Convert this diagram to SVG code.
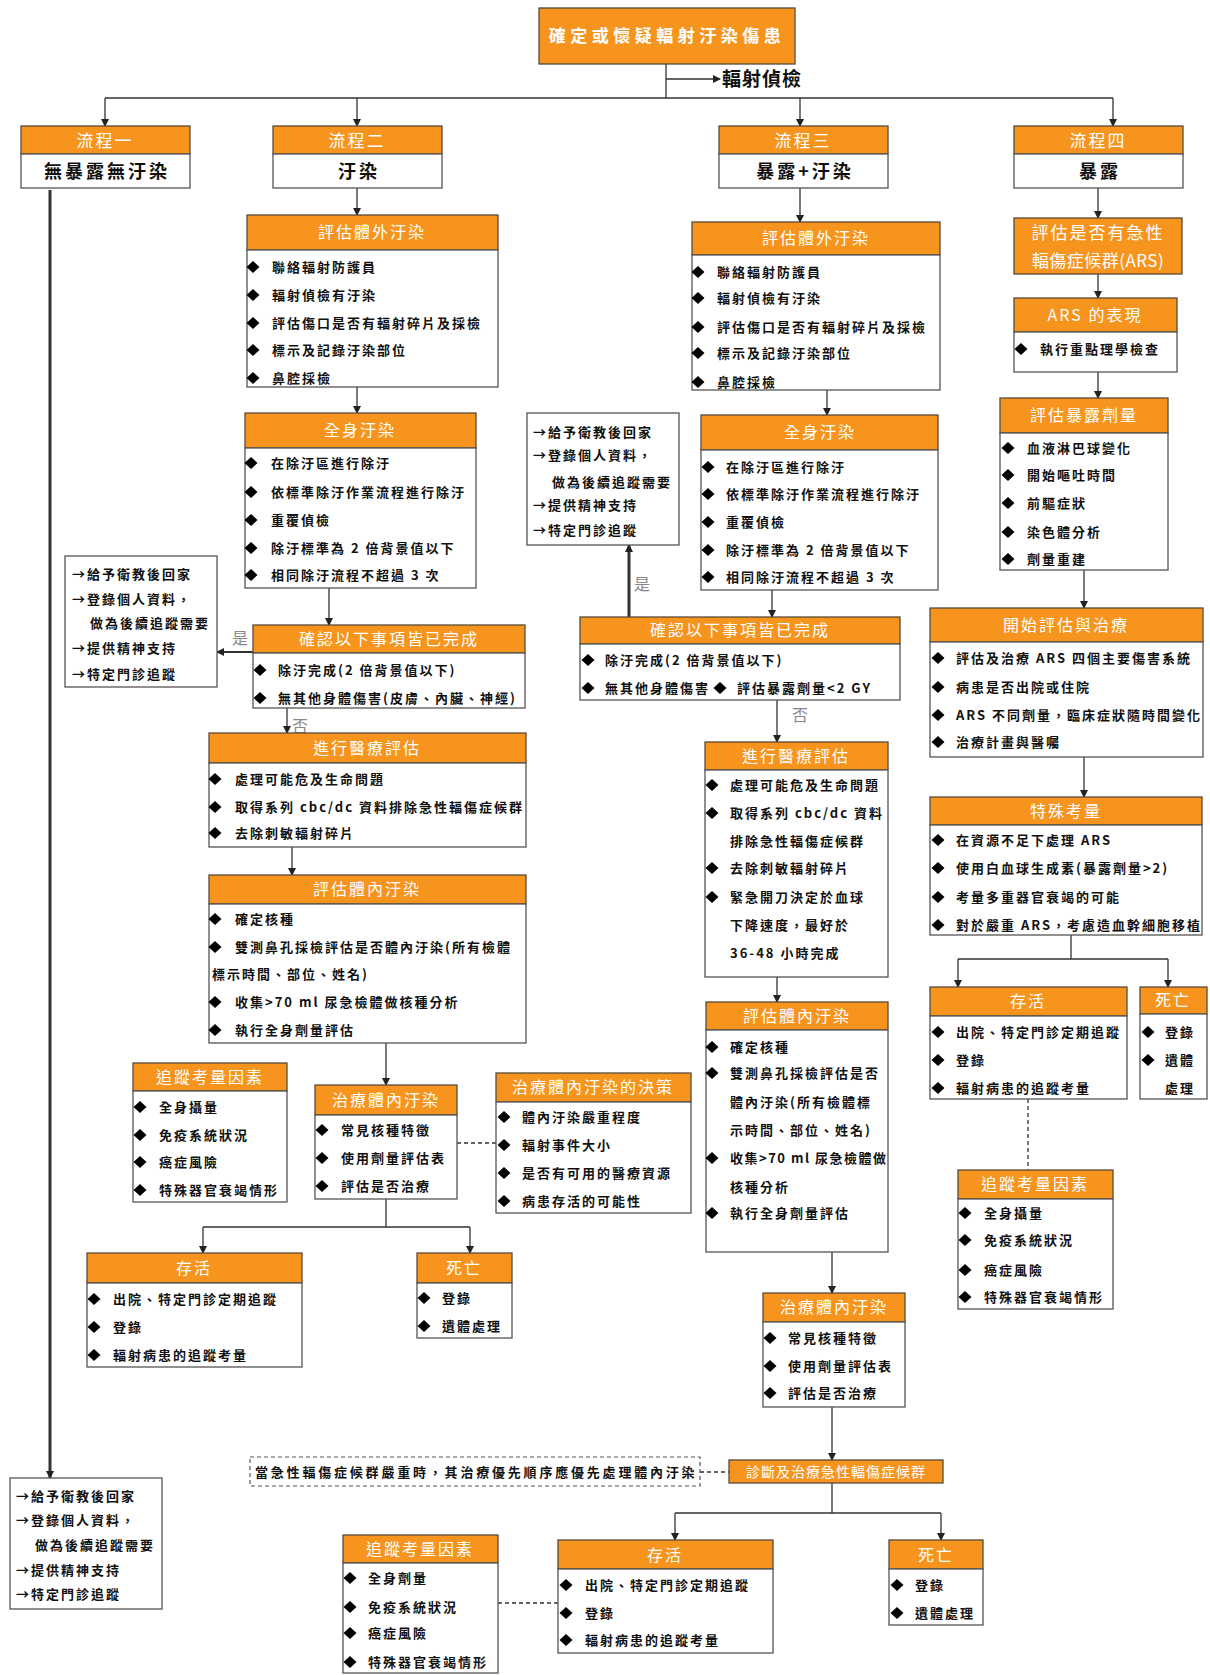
<svg xmlns="http://www.w3.org/2000/svg" xmlns:xlink="http://www.w3.org/1999/xlink" width="1210" height="1675" viewBox="0 0 1210 1675">
<style>
.o{fill:#F7941D;stroke:#5a4a3a;stroke-width:1.3}
.w{fill:#fff;stroke:#555;stroke-width:1.3}
.ht{font-family:"Noto Sans CJK TC","Noto Sans CJK SC",sans-serif;font-size:16px;fill:#fff;text-anchor:middle;letter-spacing:2px}
.t{font-family:"Noto Sans CJK TC","Noto Sans CJK SC",sans-serif;font-size:13px;font-weight:700;fill:#111;letter-spacing:2px}
.st{font-family:"Noto Sans CJK TC","Noto Sans CJK SC",sans-serif;font-size:18px;font-weight:700;fill:#111;text-anchor:middle;letter-spacing:3px}
.c{stroke:#333;stroke-width:1.3;fill:none}
.a{marker-end:url(#ar)}
.d{stroke-dasharray:4 3}
.lb{font-family:"Noto Sans CJK TC",sans-serif;font-size:16px;fill:#888}
</style>
<defs>
<marker id="ar" markerWidth="8" markerHeight="8" refX="7" refY="4" orient="auto" markerUnits="userSpaceOnUse"><path d="M0,0 L8,4 L0,8 Z" fill="#222"/></marker>
<path id="dm" d="M0 -6 L6.5 0 L0 6 L-6.5 0Z" fill="#000"/>
</defs>
<rect width="1210" height="1675" fill="#fff"/>

<g id="connectors">
<path class="c" d="M666 64 V98"/>
<path class="c a" d="M666 79 H720"/>
<path class="c" d="M105 98 H1113"/>
<path class="c a" d="M105 98 V126"/>
<path class="c a" d="M357 98 V126"/>
<path class="c a" d="M800 98 V126"/>
<path class="c a" d="M1113 98 V126"/>
<path class="c a" d="M50 190 V1478" style="stroke-width:3"/>
<path class="c a" d="M357 188 V215"/>
<path class="c a" d="M357 387 V413"/>
<path class="c a" d="M329 588 V625"/>
<path class="c a" d="M253 652 H217" style="stroke-width:2"/>
<path class="c a" d="M287 708 V733"/>
<path class="c a" d="M292 847 V875"/>
<path class="c a" d="M386 1043 V1085"/>
<path class="c d" d="M457 1143 H496"/>
<path class="c" d="M386 1199 V1227 M203 1227 H470"/>
<path class="c a" d="M203 1227 V1253"/>
<path class="c a" d="M470 1227 V1253"/>
<path class="c a" d="M800 188 V222"/>
<path class="c a" d="M827 390 V415"/>
<path class="c a" d="M772 590 V617"/>
<path class="c a" d="M629 617 V545" style="stroke-width:3"/>
<path class="c a" d="M777 700 V742"/>
<path class="c a" d="M777 977 V1002"/>
<path class="c a" d="M832 1252 V1293"/>
<path class="c a" d="M832 1407 V1460"/>
<path class="c d" d="M700 1472 H729"/>
<path class="c" d="M832 1483 V1513 M675 1513 H941"/>
<path class="c a" d="M675 1513 V1540"/>
<path class="c a" d="M941 1513 V1540"/>
<path class="c d" d="M498 1603 H558"/>
<path class="c a" d="M1098 188 V218"/>
<path class="c a" d="M1098 274 V298"/>
<path class="c a" d="M1098 372 V398"/>
<path class="c a" d="M1084 570 V608"/>
<path class="c a" d="M1084 757 V797"/>
<path class="c" d="M1071 935 V959 M958 959 H1168"/>
<path class="c a" d="M958 959 V987"/>
<path class="c a" d="M1168 959 V987"/>
<path class="c d" d="M1028 1099 V1170"/>
<text class="lb" x="232" y="644">是</text>
<text class="lb" x="292" y="732">否</text>
<text class="lb" x="634" y="590">是</text>
<text class="lb" x="792" y="721">否</text>
</g>

<g id="top">
<rect class="o" x="539" y="8" width="256" height="56"/>
<text class="ht" x="667" y="42" style="font-size:17px;font-weight:700;letter-spacing:4.5px">確定或懷疑輻射汙染傷患</text>
</g>
<g id="detect"><text class="t" x="722" y="86" style="font-size:19px;letter-spacing:1px">輻射偵檢</text></g>

<g id="flow1">
<rect class="o" x="21" y="126" width="169" height="28"/><rect class="w" x="21" y="154" width="169" height="34"/>
<text class="ht" x="105" y="147" style="font-size:17px">流程一</text>
<text class="st" x="107" y="178">無暴露無汙染</text>
</g>
<g id="flow2">
<rect class="o" x="273" y="126" width="169" height="28"/><rect class="w" x="273" y="154" width="169" height="34"/>
<text class="ht" x="357" y="147" style="font-size:17px">流程二</text>
<text class="st" x="359" y="178">汙染</text>
</g>
<g id="flow3">
<rect class="o" x="719" y="126" width="169" height="28"/><rect class="w" x="719" y="154" width="169" height="34"/>
<text class="ht" x="803" y="147" style="font-size:17px">流程三</text>
<text class="st" x="805" y="178">暴露+汙染</text>
</g>
<g id="flow4">
<rect class="o" x="1014" y="126" width="169" height="28"/><rect class="w" x="1014" y="154" width="169" height="34"/>
<text class="ht" x="1098" y="147" style="font-size:17px">流程四</text>
<text class="st" x="1100" y="178">暴露</text>
</g>

<g id="n2a">
<rect class="o" x="247" y="215" width="251" height="35"/><rect class="w" x="247" y="250" width="251" height="137"/>
<text class="ht" x="372" y="238">評估體外汙染</text>
<use href="#dm" x="253" y="267"/><text class="t" x="272" y="272">聯絡輻射防護員</text>
<use href="#dm" x="253" y="295"/><text class="t" x="272" y="300">輻射偵檢有汙染</text>
<use href="#dm" x="253" y="323"/><text class="t" x="272" y="328">評估傷口是否有輻射碎片及採檢</text>
<use href="#dm" x="253" y="350"/><text class="t" x="272" y="355">標示及記錄汙染部位</text>
<use href="#dm" x="253" y="378"/><text class="t" x="272" y="383">鼻腔採檢</text>
</g>
<g id="n2b">
<rect class="o" x="245" y="413" width="231" height="35"/><rect class="w" x="245" y="448" width="231" height="140"/>
<text class="ht" x="360" y="436">全身汙染</text>
<use href="#dm" x="251" y="463"/><text class="t" x="271" y="468">在除汙區進行除汙</text>
<use href="#dm" x="251" y="492"/><text class="t" x="271" y="497">依標準除汙作業流程進行除汙</text>
<use href="#dm" x="251" y="520"/><text class="t" x="271" y="525">重覆偵檢</text>
<use href="#dm" x="251" y="548"/><text class="t" x="271" y="553">除汙標準為 2 倍背景值以下</text>
<use href="#dm" x="251" y="575"/><text class="t" x="271" y="580">相同除汙流程不超過 3 次</text>
</g>
<g id="n2c">
<rect class="o" x="253" y="625" width="272" height="28"/><rect class="w" x="253" y="653" width="272" height="55"/>
<text class="ht" x="389" y="645">確認以下事項皆已完成</text>
<use href="#dm" x="260" y="670"/><text class="t" x="278" y="675">除汙完成(2 倍背景值以下)</text>
<use href="#dm" x="260" y="698"/><text class="t" x="278" y="703">無其他身體傷害(皮膚、內臟、神經)</text>
</g>
<g id="n2y">
<rect class="w" x="65" y="556" width="152" height="131"/>
<text class="t" x="72" y="579">→給予衛教後回家</text>
<text class="t" x="72" y="604">→登錄個人資料，</text>
<text class="t" x="90" y="628">做為後續追蹤需要</text>
<text class="t" x="72" y="653">→提供精神支持</text>
<text class="t" x="72" y="679">→特定門診追蹤</text>
</g>
<g id="n2d">
<rect class="o" x="209" y="733" width="317" height="30"/><rect class="w" x="209" y="763" width="317" height="84"/>
<text class="ht" x="367" y="754">進行醫療評估</text>
<use href="#dm" x="215" y="779"/><text class="t" x="235" y="784">處理可能危及生命問題</text>
<use href="#dm" x="215" y="807"/><text class="t" x="235" y="812">取得系列 cbc/dc 資料排除急性輻傷症候群</text>
<use href="#dm" x="215" y="833"/><text class="t" x="235" y="838">去除刺敏輻射碎片</text>
</g>
<g id="n2e">
<rect class="o" x="209" y="875" width="317" height="29"/><rect class="w" x="209" y="904" width="317" height="139"/>
<text class="ht" x="367" y="895">評估體內汙染</text>
<use href="#dm" x="215" y="919"/><text class="t" x="235" y="924">確定核種</text>
<use href="#dm" x="215" y="947"/><text class="t" x="235" y="952">雙測鼻孔採檢評估是否體內汙染(所有檢體</text>
<text class="t" x="212" y="979">標示時間、部位、姓名)</text>
<use href="#dm" x="215" y="1002"/><text class="t" x="235" y="1007">收集&gt;70 ml 尿急檢體做核種分析</text>
<use href="#dm" x="215" y="1030"/><text class="t" x="235" y="1035">執行全身劑量評估</text>
</g>
<g id="n2f">
<rect class="o" x="133" y="1063" width="154" height="28"/><rect class="w" x="133" y="1091" width="154" height="111"/>
<text class="ht" x="210" y="1083">追蹤考量因素</text>
<use href="#dm" x="140" y="1107"/><text class="t" x="159" y="1112">全身攝量</text>
<use href="#dm" x="140" y="1135"/><text class="t" x="159" y="1140">免疫系統狀況</text>
<use href="#dm" x="140" y="1162"/><text class="t" x="159" y="1167">癌症風險</text>
<use href="#dm" x="140" y="1190"/><text class="t" x="159" y="1195">特殊器官衰竭情形</text>
</g>
<g id="n2g">
<rect class="o" x="315" y="1085" width="142" height="30"/><rect class="w" x="315" y="1115" width="142" height="84"/>
<text class="ht" x="386" y="1106">治療體內汙染</text>
<use href="#dm" x="322" y="1130"/><text class="t" x="341" y="1135">常見核種特徵</text>
<use href="#dm" x="322" y="1158"/><text class="t" x="341" y="1163">使用劑量評估表</text>
<use href="#dm" x="322" y="1186"/><text class="t" x="341" y="1191">評估是否治療</text>
</g>
<g id="n2h">
<rect class="o" x="496" y="1073" width="195" height="29"/><rect class="w" x="496" y="1102" width="195" height="111"/>
<text class="ht" x="593" y="1093">治療體內汙染的決策</text>
<use href="#dm" x="504" y="1117"/><text class="t" x="522" y="1122">體內汙染嚴重程度</text>
<use href="#dm" x="504" y="1145"/><text class="t" x="522" y="1150">輻射事件大小</text>
<use href="#dm" x="504" y="1173"/><text class="t" x="522" y="1178">是否有可用的醫療資源</text>
<use href="#dm" x="504" y="1201"/><text class="t" x="522" y="1206">病患存活的可能性</text>
</g>
<g id="n2i">
<rect class="o" x="87" y="1253" width="215" height="30"/><rect class="w" x="87" y="1283" width="215" height="84"/>
<text class="ht" x="194" y="1274">存活</text>
<use href="#dm" x="94" y="1299"/><text class="t" x="113" y="1304">出院、特定門診定期追蹤</text>
<use href="#dm" x="94" y="1327"/><text class="t" x="113" y="1332">登錄</text>
<use href="#dm" x="94" y="1355"/><text class="t" x="113" y="1360">輻射病患的追蹤考量</text>
</g>
<g id="n2j">
<rect class="o" x="417" y="1253" width="95" height="30"/><rect class="w" x="417" y="1283" width="95" height="55"/>
<text class="ht" x="464" y="1274">死亡</text>
<use href="#dm" x="424" y="1298"/><text class="t" x="442" y="1303">登錄</text>
<use href="#dm" x="424" y="1326"/><text class="t" x="442" y="1331">遺體處理</text>
</g>
<g id="n1b">
<rect class="w" x="10" y="1478" width="152" height="131"/>
<text class="t" x="16" y="1501">→給予衛教後回家</text>
<text class="t" x="16" y="1525">→登錄個人資料，</text>
<text class="t" x="35" y="1550">做為後續追蹤需要</text>
<text class="t" x="16" y="1575">→提供精神支持</text>
<text class="t" x="16" y="1599">→特定門診追蹤</text>
</g>

<g id="n3a">
<rect class="o" x="692" y="222" width="248" height="33"/><rect class="w" x="692" y="255" width="248" height="135"/>
<text class="ht" x="816" y="244">評估體外汙染</text>
<use href="#dm" x="698" y="272"/><text class="t" x="717" y="277">聯絡輻射防護員</text>
<use href="#dm" x="698" y="298"/><text class="t" x="717" y="303">輻射偵檢有汙染</text>
<use href="#dm" x="698" y="327"/><text class="t" x="717" y="332">評估傷口是否有輻射碎片及採檢</text>
<use href="#dm" x="698" y="353"/><text class="t" x="717" y="358">標示及記錄汙染部位</text>
<use href="#dm" x="698" y="382"/><text class="t" x="717" y="387">鼻腔採檢</text>
</g>
<g id="n3y">
<rect class="w" x="527" y="413" width="152" height="132"/>
<text class="t" x="533" y="437">→給予衛教後回家</text>
<text class="t" x="533" y="460">→登錄個人資料，</text>
<text class="t" x="552" y="487">做為後續追蹤需要</text>
<text class="t" x="533" y="510">→提供精神支持</text>
<text class="t" x="533" y="535">→特定門診追蹤</text>
</g>
<g id="n3b">
<rect class="o" x="701" y="415" width="237" height="35"/><rect class="w" x="701" y="450" width="237" height="140"/>
<text class="ht" x="820" y="438">全身汙染</text>
<use href="#dm" x="708" y="467"/><text class="t" x="726" y="472">在除汙區進行除汙</text>
<use href="#dm" x="708" y="494"/><text class="t" x="726" y="499">依標準除汙作業流程進行除汙</text>
<use href="#dm" x="708" y="522"/><text class="t" x="726" y="527">重覆偵檢</text>
<use href="#dm" x="708" y="550"/><text class="t" x="726" y="555">除汙標準為 2 倍背景值以下</text>
<use href="#dm" x="708" y="577"/><text class="t" x="726" y="582">相同除汙流程不超過 3 次</text>
</g>
<g id="n3c">
<rect class="o" x="580" y="617" width="320" height="27"/><rect class="w" x="580" y="644" width="320" height="56"/>
<text class="ht" x="740" y="636">確認以下事項皆已完成</text>
<use href="#dm" x="588" y="660"/><text class="t" x="605" y="665">除汙完成(2 倍背景值以下)</text>
<use href="#dm" x="588" y="688"/><text class="t" x="605" y="693">無其他身體傷害</text>
<use href="#dm" x="720" y="688"/><text class="t" x="737" y="693">評估暴露劑量&lt;2 GY</text>
</g>
<g id="n3d">
<rect class="o" x="705" y="742" width="183" height="28"/><rect class="w" x="705" y="770" width="183" height="207"/>
<text class="ht" x="796" y="762">進行醫療評估</text>
<use href="#dm" x="712" y="785"/><text class="t" x="730" y="790">處理可能危及生命問題</text>
<use href="#dm" x="712" y="813"/><text class="t" x="730" y="818">取得系列 cbc/dc 資料</text>
<text class="t" x="730" y="846">排除急性輻傷症候群</text>
<use href="#dm" x="712" y="868"/><text class="t" x="730" y="873">去除刺敏輻射碎片</text>
<use href="#dm" x="712" y="897"/><text class="t" x="730" y="902">緊急開刀決定於血球</text>
<text class="t" x="730" y="930">下降速度，最好於</text>
<text class="t" x="730" y="958">36-48 小時完成</text>
</g>
<g id="n3e">
<rect class="o" x="706" y="1002" width="182" height="28"/><rect class="w" x="706" y="1030" width="182" height="222"/>
<text class="ht" x="797" y="1022">評估體內汙染</text>
<use href="#dm" x="712" y="1047"/><text class="t" x="730" y="1052">確定核種</text>
<use href="#dm" x="712" y="1073"/><text class="t" x="730" y="1078">雙測鼻孔採檢評估是否</text>
<text class="t" x="730" y="1107">體內汙染(所有檢體標</text>
<text class="t" x="730" y="1135">示時間、部位、姓名)</text>
<use href="#dm" x="712" y="1158"/><text class="t" x="730" y="1163" style="letter-spacing:1.5px">收集&gt;70 ml 尿急檢體做</text>
<text class="t" x="730" y="1192">核種分析</text>
<use href="#dm" x="712" y="1213"/><text class="t" x="730" y="1218">執行全身劑量評估</text>
</g>
<g id="n3f">
<rect class="o" x="763" y="1293" width="142" height="29"/><rect class="w" x="763" y="1322" width="142" height="85"/>
<text class="ht" x="834" y="1313">治療體內汙染</text>
<use href="#dm" x="770" y="1338"/><text class="t" x="788" y="1343">常見核種特徵</text>
<use href="#dm" x="770" y="1366"/><text class="t" x="788" y="1371">使用劑量評估表</text>
<use href="#dm" x="770" y="1393"/><text class="t" x="788" y="1398">評估是否治療</text>
</g>
<g id="n3g">
<rect class="o" x="729" y="1460" width="214" height="23"/>
<text class="ht" x="836" y="1477" style="font-size:14px;letter-spacing:1px">診斷及治療急性輻傷症候群</text>
</g>
<g id="n3h">
<rect x="250" y="1457" width="450" height="29" fill="#fff" stroke="#555" stroke-width="1.2" stroke-dasharray="4 3"/>
<text class="t" x="255" y="1477" style="letter-spacing:2.8px">當急性輻傷症候群嚴重時，其治療優先順序應優先處理體內汙染</text>
</g>
<g id="n3i">
<rect class="o" x="343" y="1535" width="155" height="28"/><rect class="w" x="343" y="1563" width="155" height="110"/>
<text class="ht" x="420" y="1555">追蹤考量因素</text>
<use href="#dm" x="350" y="1578"/><text class="t" x="368" y="1583">全身劑量</text>
<use href="#dm" x="350" y="1607"/><text class="t" x="368" y="1612">免疫系統狀況</text>
<use href="#dm" x="350" y="1633"/><text class="t" x="368" y="1638">癌症風險</text>
<use href="#dm" x="350" y="1662"/><text class="t" x="368" y="1667">特殊器官衰竭情形</text>
</g>
<g id="n3j">
<rect class="o" x="558" y="1540" width="215" height="29"/><rect class="w" x="558" y="1569" width="215" height="84"/>
<text class="ht" x="665" y="1561">存活</text>
<use href="#dm" x="566" y="1585"/><text class="t" x="585" y="1590">出院、特定門診定期追蹤</text>
<use href="#dm" x="566" y="1613"/><text class="t" x="585" y="1618">登錄</text>
<use href="#dm" x="566" y="1640"/><text class="t" x="585" y="1645">輻射病患的追蹤考量</text>
</g>
<g id="n3k">
<rect class="o" x="889" y="1540" width="94" height="29"/><rect class="w" x="889" y="1569" width="94" height="56"/>
<text class="ht" x="936" y="1561">死亡</text>
<use href="#dm" x="897" y="1585"/><text class="t" x="915" y="1590">登錄</text>
<use href="#dm" x="897" y="1613"/><text class="t" x="915" y="1618">遺體處理</text>
</g>

<g id="n4a">
<rect class="o" x="1014" y="218" width="168" height="56"/>
<text class="ht" x="1098" y="239" style="font-size:17px">評估是否有急性</text>
<text class="ht" x="1098" y="267" style="font-size:17px;letter-spacing:0.5px">輻傷症候群(ARS)</text>
</g>
<g id="n4b">
<rect class="o" x="1014" y="298" width="163" height="34"/><rect class="w" x="1014" y="332" width="163" height="40"/>
<text class="ht" x="1095" y="321">ARS 的表現</text>
<use href="#dm" x="1021" y="349"/><text class="t" x="1040" y="354">執行重點理學檢查</text>
</g>
<g id="n4c">
<rect class="o" x="1000" y="398" width="168" height="35"/><rect class="w" x="1000" y="433" width="168" height="137"/>
<text class="ht" x="1084" y="421">評估暴露劑量</text>
<use href="#dm" x="1008" y="448"/><text class="t" x="1027" y="453">血液淋巴球變化</text>
<use href="#dm" x="1008" y="475"/><text class="t" x="1027" y="480">開始嘔吐時間</text>
<use href="#dm" x="1008" y="503"/><text class="t" x="1027" y="508">前驅症狀</text>
<use href="#dm" x="1008" y="532"/><text class="t" x="1027" y="537">染色體分析</text>
<use href="#dm" x="1008" y="559"/><text class="t" x="1027" y="564">劑量重建</text>
</g>
<g id="n4d">
<rect class="o" x="930" y="608" width="273" height="34"/><rect class="w" x="930" y="642" width="273" height="115"/>
<text class="ht" x="1066" y="631">開始評估與治療</text>
<use href="#dm" x="938" y="658"/><text class="t" x="956" y="663">評估及治療 ARS 四個主要傷害系統</text>
<use href="#dm" x="938" y="687"/><text class="t" x="956" y="692">病患是否出院或住院</text>
<use href="#dm" x="938" y="715"/><text class="t" x="956" y="720">ARS 不同劑量，臨床症狀隨時間變化</text>
<use href="#dm" x="938" y="742"/><text class="t" x="956" y="747">治療計畫與醫囑</text>
</g>
<g id="n4e">
<rect class="o" x="930" y="797" width="272" height="28"/><rect class="w" x="930" y="825" width="272" height="110"/>
<text class="ht" x="1066" y="817">特殊考量</text>
<use href="#dm" x="938" y="840"/><text class="t" x="956" y="845">在資源不足下處理 ARS</text>
<use href="#dm" x="938" y="868"/><text class="t" x="956" y="873">使用白血球生成素(暴露劑量&gt;2)</text>
<use href="#dm" x="938" y="897"/><text class="t" x="956" y="902">考量多重器官衰竭的可能</text>
<use href="#dm" x="938" y="925"/><text class="t" x="956" y="930">對於嚴重 ARS，考慮造血幹細胞移植</text>
</g>
<g id="n4f">
<rect class="o" x="930" y="987" width="197" height="29"/><rect class="w" x="930" y="1016" width="197" height="83"/>
<text class="ht" x="1028" y="1007">存活</text>
<use href="#dm" x="938" y="1032"/><text class="t" x="956" y="1037">出院、特定門診定期追蹤</text>
<use href="#dm" x="938" y="1060"/><text class="t" x="956" y="1065">登錄</text>
<use href="#dm" x="938" y="1088"/><text class="t" x="956" y="1093">輻射病患的追蹤考量</text>
</g>
<g id="n4g">
<rect class="o" x="1140" y="987" width="67" height="27"/><rect class="w" x="1140" y="1014" width="67" height="85"/>
<text class="ht" x="1173" y="1006">死亡</text>
<use href="#dm" x="1148" y="1032"/><text class="t" x="1165" y="1037">登錄</text>
<use href="#dm" x="1148" y="1060"/><text class="t" x="1165" y="1065">遺體</text>
<text class="t" x="1165" y="1093">處理</text>
</g>
<g id="n4h">
<rect class="o" x="958" y="1170" width="155" height="29"/><rect class="w" x="958" y="1199" width="155" height="110"/>
<text class="ht" x="1035" y="1190">追蹤考量因素</text>
<use href="#dm" x="965" y="1213"/><text class="t" x="984" y="1218">全身攝量</text>
<use href="#dm" x="965" y="1240"/><text class="t" x="984" y="1245">免疫系統狀況</text>
<use href="#dm" x="965" y="1270"/><text class="t" x="984" y="1275">癌症風險</text>
<use href="#dm" x="965" y="1297"/><text class="t" x="984" y="1302">特殊器官衰竭情形</text>
</g>
</svg>
